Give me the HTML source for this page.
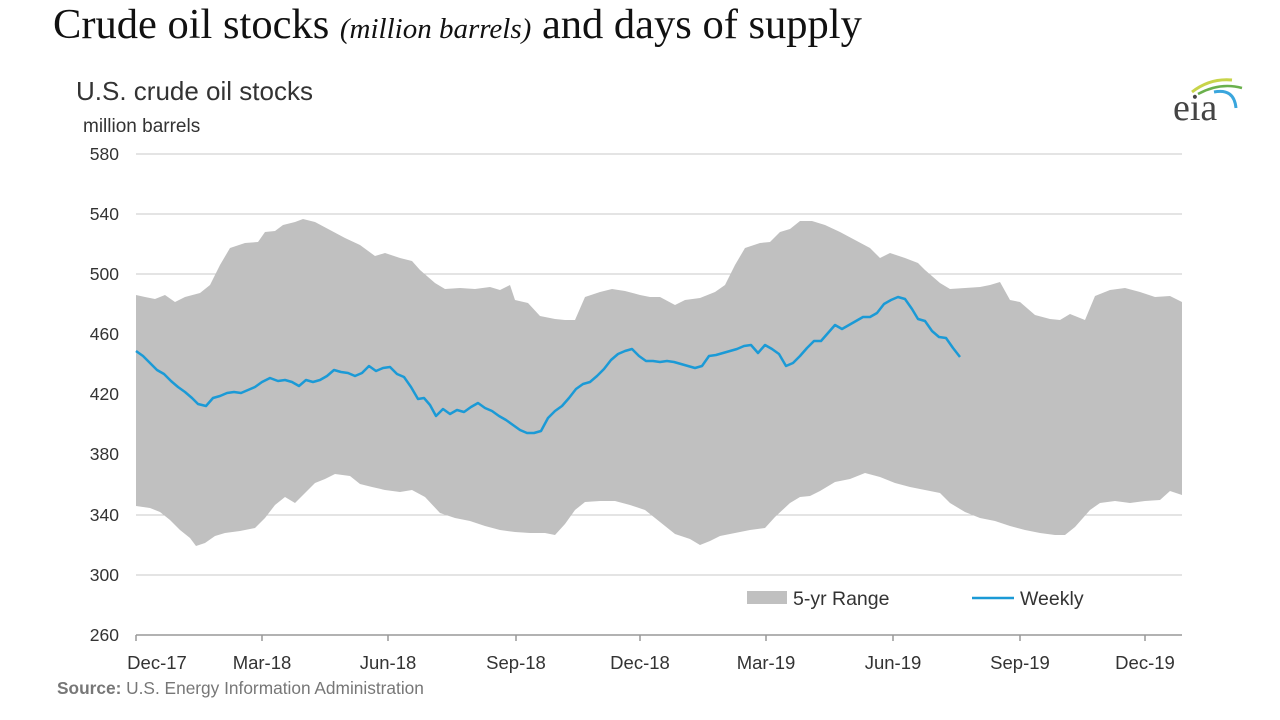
<!DOCTYPE html>
<html><head><meta charset="utf-8"><style>
body{margin:0;width:1280px;height:720px;background:#fff;overflow:hidden}
svg{display:block}
</style></head><body>
<svg width="1280" height="720" xmlns="http://www.w3.org/2000/svg" font-family="Liberation Sans, Arial, sans-serif">
<text x="53" y="38" font-family="Liberation Serif, serif" font-size="42.5" fill="#111">Crude oil stocks <tspan font-style="italic" font-size="29">(million barrels)</tspan> and days of supply</text>
<text x="76" y="100" font-size="26" fill="#333">U.S. crude oil stocks</text>
<text x="83" y="132" font-size="19" fill="#333">million barrels</text>
<g stroke="#c8c8c8" stroke-width="1">
<line x1="136" x2="1182" y1="154" y2="154"/><line x1="136" x2="1182" y1="214" y2="214"/>
<line x1="136" x2="1182" y1="274" y2="274"/><line x1="136" x2="1182" y1="334" y2="334"/>
<line x1="136" x2="1182" y1="394" y2="394"/><line x1="136" x2="1182" y1="454" y2="454"/>
<line x1="136" x2="1182" y1="515" y2="515"/><line x1="136" x2="1182" y1="575" y2="575"/>
</g>
<polygon fill="#c0c0c0" points="136,295 145,297 155,299 165,295 175,302 185,297 200,293 210,285 220,265 230,248 245,243 258,242 265,232 275,231 283,225 295,222 303,219 315,222 330,230 345,238 360,245 375,256 385,253 400,258 412,261 420,270 435,283 445,289 460,288 475,289 490,287 500,290 510,285 515,300 528,303 540,316 555,319 565,320 575,320 585,297 600,292 612,289 625,291 640,295 650,297 660,297 675,305 685,300 700,298 715,292 725,285 735,265 745,248 760,243 770,242 780,232 790,229 800,221 812,221 825,225 840,232 855,240 870,248 880,258 890,253 905,258 918,263 925,270 940,283 950,289 965,288 980,287 990,285 1000,282 1010,300 1020,302 1035,315 1050,319 1060,320 1070,314 1085,320 1095,296 1110,290 1125,288 1140,292 1155,297 1170,296 1182,302 1182,495 1170,491 1160,500 1145,501 1130,503 1115,501 1100,503 1090,510 1075,527 1065,535 1055,535 1040,533 1025,530 1010,526 995,521 980,518 965,512 950,503 940,493 925,490 910,487 895,483 880,477 865,473 850,479 835,482 820,491 810,496 800,497 790,503 775,517 765,528 750,530 735,533 720,536 710,541 700,545 690,539 675,534 660,522 645,510 630,505 615,501 600,501 585,502 575,510 565,524 555,535 545,533 530,533 515,532 500,530 485,526 470,521 455,518 440,513 425,497 412,490 400,492 385,490 372,487 360,484 350,476 335,474 325,479 315,483 305,493 295,503 285,497 275,505 265,518 255,528 240,531 225,533 215,536 205,543 196,546 190,538 180,530 170,520 160,512 150,508 136,506"/>
<polyline fill="none" stroke="#1b9ad6" stroke-width="2.5" stroke-linejoin="round" points="136,351 143,356 150,363 157,370 164,374 171,381 178,387 185,392 192,398 198,404 206,406 213,398 220,396 227,393 234,392 241,393 248,390 255,387 262,382 270,378 278,381 285,380 292,382 299,386 306,380 313,382 320,380 327,376 334,370 341,372 348,373 355,376 362,373 369,366 376,371 383,368 390,367 397,374 404,377 411,387 418,399 424,398 430,405 436,416 443,409 450,414 457,410 464,412 471,407 478,403 485,408 492,411 499,416 506,420 513,425 520,430 527,433 534,433 541,431 548,418 555,411 562,406 569,398 576,389 583,384 590,382 597,376 604,369 611,360 618,354 625,351 632,349 639,356 646,361 653,361 660,362 667,361 674,362 681,364 688,366 695,368 702,366 709,356 716,355 723,353 730,351 737,349 744,346 751,345 758,353 765,345 772,349 779,354 786,366 793,363 800,356 807,348 814,341 821,341 828,333 835,325 842,329 849,325 856,321 863,317 870,317 877,313 884,304 891,300 898,297 905,299 912,309 918,319 925,321 932,331 939,337 946,338 953,348 960,357"/>
<line x1="136" x2="1182" y1="635" y2="635" stroke="#999" stroke-width="1.5"/>
<g stroke="#999" stroke-width="1.5">
<line x1="136" x2="136" y1="635" y2="641"/><line x1="262" x2="262" y1="635" y2="641"/><line x1="388" x2="388" y1="635" y2="641"/><line x1="516" x2="516" y1="635" y2="641"/><line x1="640" x2="640" y1="635" y2="641"/><line x1="766" x2="766" y1="635" y2="641"/><line x1="893" x2="893" y1="635" y2="641"/><line x1="1020" x2="1020" y1="635" y2="641"/><line x1="1145" x2="1145" y1="635" y2="641"/>
</g>
<g font-size="17.5" fill="#333" text-anchor="end">
<text x="119" y="160">580</text><text x="119" y="220">540</text><text x="119" y="280">500</text><text x="119" y="340">460</text><text x="119" y="400">420</text><text x="119" y="460">380</text><text x="119" y="521">340</text><text x="119" y="581">300</text><text x="119" y="641">260</text>
</g>
<g font-size="18.5" fill="#333" text-anchor="middle">
<text x="157" y="669">Dec-17</text><text x="262" y="669">Mar-18</text><text x="388" y="669">Jun-18</text><text x="516" y="669">Sep-18</text><text x="640" y="669">Dec-18</text><text x="766" y="669">Mar-19</text><text x="893" y="669">Jun-19</text><text x="1020" y="669">Sep-19</text><text x="1145" y="669">Dec-19</text>
</g>
<rect x="747" y="591" width="40" height="13" fill="#c0c0c0"/>
<text x="793" y="605" font-size="19.5" fill="#333">5-yr Range</text>
<line x1="972" x2="1014" y1="598" y2="598" stroke="#1b9ad6" stroke-width="2.5"/>
<text x="1020" y="605" font-size="19.5" fill="#333">Weekly</text>
<text x="57" y="694" font-size="17.3" fill="#777"><tspan font-weight="bold">Source:</tspan> U.S. Energy Information Administration</text>
<path d="M1192,92 Q1210,78 1232,80" stroke="#c8d44a" stroke-width="3" fill="none"/>
<path d="M1198,94 Q1220,82 1242,88" stroke="#6ab04c" stroke-width="2.5" fill="none"/>
<path d="M1214,92 Q1234,88 1236,108" stroke="#3aa6dd" stroke-width="3" fill="none"/>
<text x="1173" y="120" font-family="Liberation Serif, serif" font-size="38" fill="#444">eia</text>
</svg>
</body></html>
